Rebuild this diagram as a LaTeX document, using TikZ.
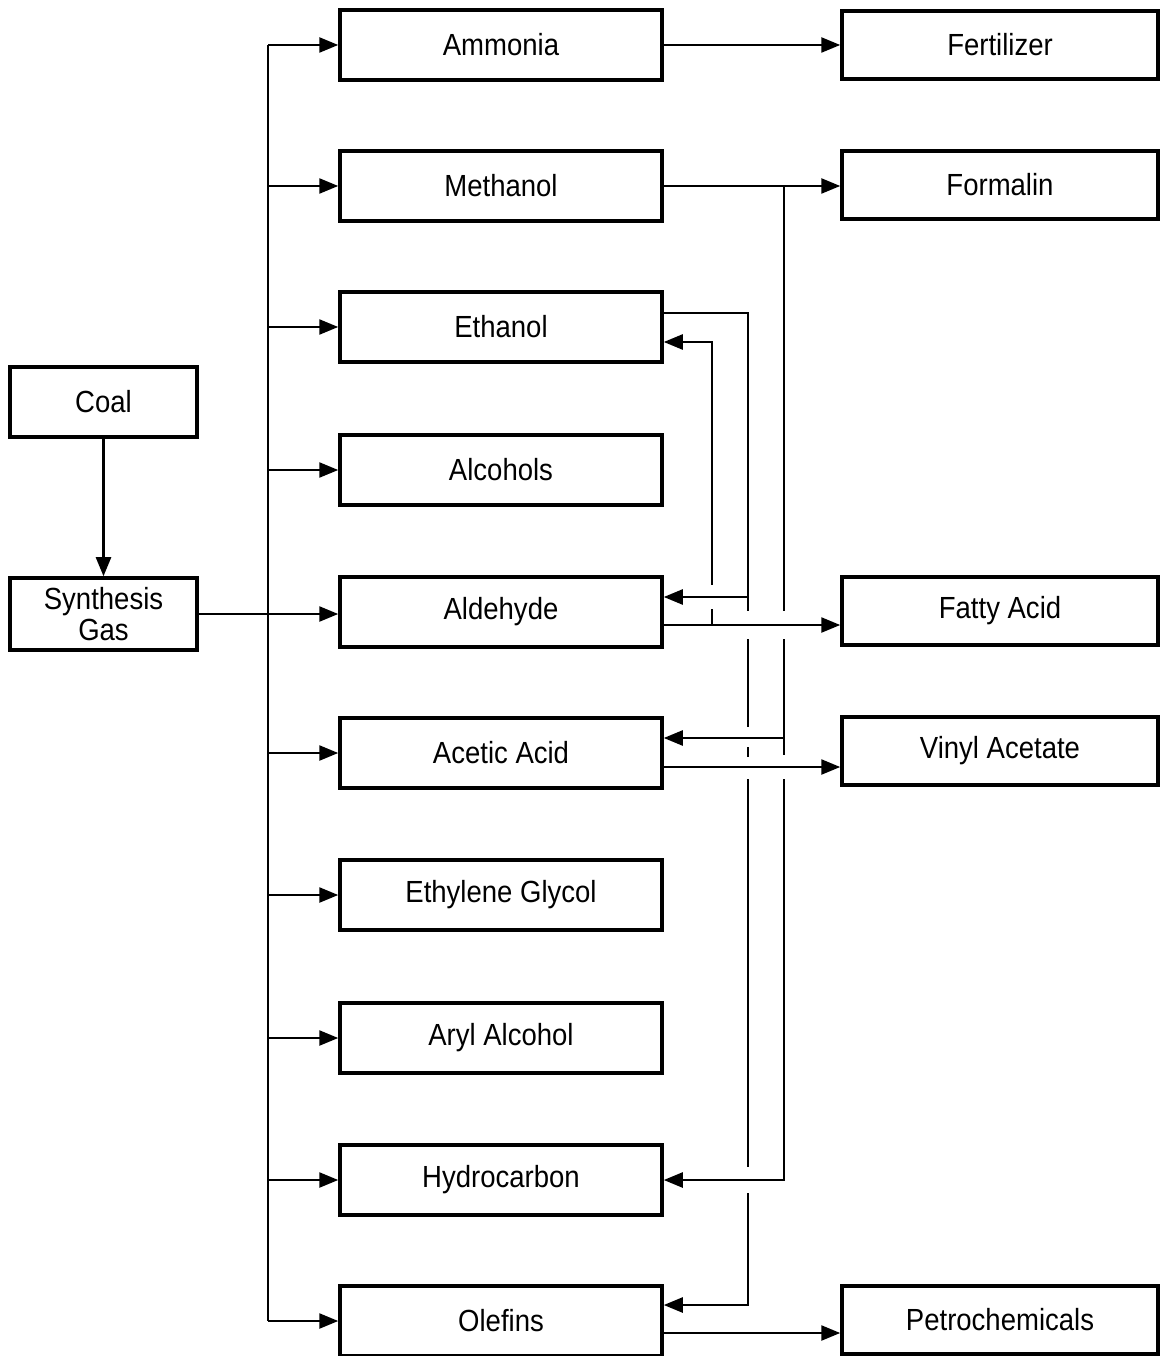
\documentclass[tikz,border=0pt]{standalone}
\usepackage{fontspec}
\setmainfont[FakeStretch=0.9]{Liberation Sans}
\usetikzlibrary{calc,arrows.meta}
\tikzset{%
	unit/.style = {draw,line width=1pt,minimum width=32.2mm,minimum height=7mm,inner sep=0pt,font=\fontsize{8.7}{8.6}\selectfont,align=center},
	src/.style = {unit,minimum width=18.7mm},
	prod/.style = {unit,minimum width=31.6mm,minimum height=6.8mm},
	pipe/.style = {line width=0.7pt},
	flow/.style = {pipe,-{Triangle[length=1.9mm,width=1.5mm]}},
	bridge/.style = {fill=white,draw=none}%
}

\begin{document}
\begin{tikzpicture}[x=0.1mm,y=-0.1mm]
		\useasboundingbox (0,0) rectangle (1160,1356);
		
		\node(coal)[src] at (103.5,402){Coal};
		\node(syngas)[src,minimum height=7.2mm] at (103.5,614){Synthesis\\Gas};
		
		\node(ammonia)[unit] at (501,45){Ammonia};
		\node(methanol)[unit] at (501,186){Methanol};
		\node(ethanol)[unit] at (501,327){Ethanol};
		\node(alcohols)[unit] at (501,470){Alcohols};
		\node(aldehyde)[unit] at (501,612){Aldehyde};
		\node(acetic)[unit] at (501,753){Acetic Acid};
		\node(glycol)[unit] at (501,895){Ethylene Glycol};
		\node(aryl)[unit] at (501,1038){Aryl Alcohol};
		\node(hydrocarbon)[unit] at (501,1180){Hydrocarbon};
		\node(olefins)[unit] at (501,1321){Olefins};
		
		\node(fertilizer)[prod] at (1000,45){Fertilizer};
		\node(formalin)[prod] at (1000,185){Formalin};
		\node(fatty)[prod] at (1000,611){Fatty Acid};
		\node(vinyl)[prod] at (1000,751){Vinyl Acetate};
		\node(petro)[prod] at (1000,1320){Petrochemicals};
		
		\coordinate(bus) at (268,0);
		\coordinate(colA) at (712,0);
		\coordinate(colB) at (748,0);
		\coordinate(colC) at (784,0);
		\coordinate(eth-out) at ($(ethanol.east)+(0,-14)$);
		\coordinate(eth-in) at ($(ethanol.east)+(0,15)$);
		\coordinate(ald-in) at ($(aldehyde.east)+(0,-15)$);
		\coordinate(ald-out) at ($(aldehyde.east)+(0,13)$);
		\coordinate(ace-in) at ($(acetic.east)+(0,-15)$);
		\coordinate(ace-out) at ($(acetic.east)+(0,14)$);
		\coordinate(ole-in) at ($(olefins.east)+(0,-16)$);
		\coordinate(ole-out) at ($(olefins.east)+(0,12)$);
		
		% feed side
		\draw[flow](coal)--(syngas);
		\draw[pipe](bus |- ammonia.west)--(bus |- olefins.west);
		\draw[flow](syngas.east)--(syngas.east -| aldehyde.west);
		\foreach \n in {ammonia,methanol,ethanol,alcohols,acetic,glycol,aryl,hydrocarbon,olefins}
			\draw[flow](bus |- \n.west)--(\n.west);
		
		% cross links
		\draw[flow](colA |- ald-out) |- (eth-in);
		\draw[flow](eth-out) -| (colB |- ole-in) -- (ole-in);
		\fill[bridge]($(colA |- ald-in)+(-5,-12)$) rectangle +(10,24);
		\draw[flow](colB |- ald-in)--(ald-in);
		\fill[bridge]($(colB |- ace-in)+(-5,-11)$) rectangle +(10,20);
		\fill[bridge]($(colB |- hydrocarbon.east)+(-5,-13)$) rectangle +(10,26);
		\draw[flow](colC |- methanol.east) |- (hydrocarbon.east);
		\draw[flow](colC |- ace-in)--(ace-in);
		\fill[bridge]($(colB |- ald-out)+(-5,-14)$) rectangle +(10,28);
		\fill[bridge]($(colC |- ald-out)+(-5,-14)$) rectangle +(10,28);
		\fill[bridge]($(colB |- ace-out)+(-5,-10)$) rectangle +(10,22);
		\fill[bridge]($(colC |- ace-out)+(-5,-12)$) rectangle +(10,24);
		
		% products
		\draw[flow](ammonia.east)--(ammonia.east -| fertilizer.west);
		\draw[flow](methanol.east)--(methanol.east -| formalin.west);
		\draw[flow](ald-out)--(ald-out -| fatty.west);
		\draw[flow](ace-out)--(ace-out -| vinyl.west);
		\draw[flow](ole-out)--(ole-out -| petro.west);
\end{tikzpicture}
\end{document}
